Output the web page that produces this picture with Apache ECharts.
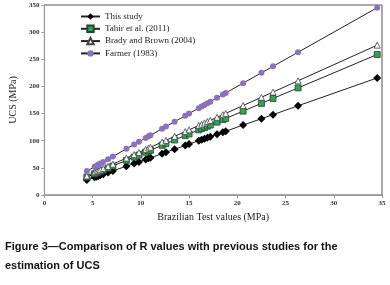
<!DOCTYPE html>
<html>
<head>
<meta charset="utf-8">
<script src="https://cdn.jsdelivr.net/npm/echarts@6/dist/echarts.min.js"></script>
<style>
  html, body { margin: 0; padding: 0; background: #fff; }
  #chart { width: 390px; height: 285px; }
</style>
</head>
<body>
<div id="chart"></div>
<script>
// Brazilian test values (MPa)
const btsValues = [4.4, 5.2, 5.4, 5.6, 5.8, 6.1, 6.6, 7.1, 8.5, 9.3, 9.8, 10.5, 10.8, 11.0, 12.2, 12.6,
  13.5, 14.6, 15.0, 16.0, 16.3, 16.6, 16.9, 17.2, 17.9, 18.5, 18.8, 20.6, 22.5, 23.7, 26.3, 34.5]

// UCS (MPa) for each series
const thisStudy = [27.5, 32.5, 33.8, 35, 36.3, 38, 41.3, 44.4, 53, 58, 61, 65.6, 67.5, 68.8, 76, 78.8,
  84.4, 91, 93.8, 100, 102, 103.8, 105.6, 107.5, 112, 115.6, 117.5, 128.8, 140.6, 148, 164.4, 215.6]
const tahir = [33, 39, 40.5, 42, 43.5, 45.8, 49.5, 53.3, 63.8, 69.8, 73.5, 78.8, 81, 82.5, 91.5, 94.5,
  101.3, 109.5, 112.5, 120, 122.3, 124.5, 126.8, 129, 134.3, 138.8, 141, 154.5, 168.8, 177.8, 197.3, 258.8]
const bradyBrown = [35.2, 41.6, 43.2, 44.8, 46.4, 48.8, 52.8, 56.8, 68, 74.4, 78.4, 84, 86.4, 88, 97.6, 100.8,
  108, 116.8, 120, 128, 130.4, 132.8, 135.2, 137.6, 143.2, 148, 150.4, 164.8, 180, 189.6, 210.4, 276]
const farmer = [44, 52, 54, 56, 58, 61, 66, 71, 85, 93, 98, 105, 108, 110, 122, 126,
  135, 146, 150, 160, 163, 166, 169, 172, 179, 185, 188, 206, 225, 237, 263, 345]

const seriesNames = ['This study', 'Tahir et al. (2011)', 'Brady and Brown (2004)', 'Farmer (1983)']

const toPairs = (ys) => btsValues.map((x, i) => [x, ys[i]])

const chart = echarts.init(document.getElementById('chart'))
const serif = 'Liberation Serif'

chart.setOption({
  animation: false,
  grid: {
    left: 32,
    right: 8,
    top: 5,
    bottom: 90,
    show: true,
    borderColor: '#555',
    borderWidth: 1
  },
  legend: {
    left: 80,
    top: 12,
    padding: 0,
    orient: 'vertical',
    itemGap: 3.3,
    itemWidth: 19,
    itemHeight: 8,
    textStyle: { fontFamily: serif, fontSize: 9, color: '#222' },
    data: seriesNames
  },
  xAxis: {
    type: 'value',
    min: 0,
    max: 35,
    interval: 5,
    name: 'Brazilian Test values (MPa)',
    nameLocation: 'middle',
    nameGap: 16,
    nameTextStyle: { fontFamily: serif, fontSize: 10, color: '#222' },
    axisLine: { lineStyle: { color: '#999' } },
    axisTick: { show: true, length: 3, lineStyle: { color: '#999' } },
    axisLabel: { fontFamily: serif, fontSize: 7, fontWeight: 'bold', color: '#333', margin: 5 },
    splitLine: { show: false }
  },
  yAxis: {
    type: 'value',
    min: 0,
    max: 350,
    interval: 50,
    name: 'UCS (MPa)',
    nameLocation: 'middle',
    nameGap: 22,
    nameTextStyle: { fontFamily: serif, fontSize: 10, color: '#222' },
    axisLine: { show: true, lineStyle: { color: '#999' } },
    axisTick: { show: true, length: 3, lineStyle: { color: '#999' } },
    axisLabel: { fontFamily: serif, fontSize: 7, fontWeight: 'bold', color: '#333', margin: 5 },
    splitLine: { show: false }
  },
  series: [
    {
      name: seriesNames[0],
      type: 'line',
      data: toPairs(thisStudy),
      symbol: 'diamond',
      symbolSize: 8,
      itemStyle: { color: '#000' },
      lineStyle: { color: '#222', width: 1 }
    },
    {
      name: seriesNames[1],
      type: 'line',
      data: toPairs(tahir),
      symbol: 'rect',
      symbolSize: 6,
      itemStyle: { color: '#34a05c', borderColor: '#1d4a2a', borderWidth: 0.8 },
      lineStyle: { color: '#222', width: 1 }
    },
    {
      name: seriesNames[2],
      type: 'line',
      data: toPairs(bradyBrown),
      symbol: 'triangle',
      symbolSize: 6,
      itemStyle: { color: '#fff', borderColor: '#444', borderWidth: 0.8 },
      lineStyle: { color: '#222', width: 1 }
    },
    {
      name: seriesNames[3],
      type: 'line',
      data: toPairs(farmer),
      symbol: 'circle',
      symbolSize: 6,
      itemStyle: { color: '#8b72bd' },
      lineStyle: { color: '#222', width: 1 }
    }
  ],
  graphic: [
    {
      type: 'text',
      left: 5,
      top: 237,
      style: {
        text: 'Figure 3\u2014Comparison of R values with previous studies for the\nestimation of UCS',
        font: 'bold 11px "Liberation Sans"',
        lineHeight: 19,
        fill: '#111'
      }
    }
  ]
})
</script>
</body>
</html>
